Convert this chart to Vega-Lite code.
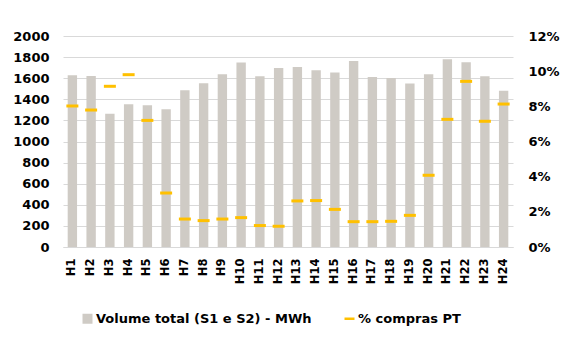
{
  "$schema": "https://vega.github.io/schema/vega-lite/v6.json",
  "width": 450,
  "height": 211,
  "autosize": {"type": "none"},
  "padding": {"left": 63, "top": 36, "right": 57, "bottom": 91},
  "background": "white",
  "config": {
    "font": "DejaVu Sans",
    "view": {"stroke": null},
    "axis": {"labelFont": "DejaVu Sans", "labelFontWeight": "bold", "labelColor": "#000000", "ticks": false, "domain": false}
  },
  "data": {
    "values": [
      {"hour": "H1", "vol": 1627, "pct": 0.0802},
      {"hour": "H2", "vol": 1621, "pct": 0.0779},
      {"hour": "H3", "vol": 1263, "pct": 0.0914},
      {"hour": "H4", "vol": 1353, "pct": 0.098},
      {"hour": "H5", "vol": 1343, "pct": 0.072},
      {"hour": "H6", "vol": 1305, "pct": 0.0307},
      {"hour": "H7", "vol": 1485, "pct": 0.0159},
      {"hour": "H8", "vol": 1552, "pct": 0.015},
      {"hour": "H9", "vol": 1637, "pct": 0.0159},
      {"hour": "H10", "vol": 1748, "pct": 0.0167},
      {"hour": "H11", "vol": 1618, "pct": 0.0122},
      {"hour": "H12", "vol": 1697, "pct": 0.0118},
      {"hour": "H13", "vol": 1706, "pct": 0.0262},
      {"hour": "H14", "vol": 1675, "pct": 0.0264},
      {"hour": "H15", "vol": 1653, "pct": 0.0214},
      {"hour": "H16", "vol": 1763, "pct": 0.0144},
      {"hour": "H17", "vol": 1611, "pct": 0.0144},
      {"hour": "H18", "vol": 1602, "pct": 0.0146},
      {"hour": "H19", "vol": 1549, "pct": 0.018},
      {"hour": "H20", "vol": 1637, "pct": 0.0408},
      {"hour": "H21", "vol": 1779, "pct": 0.0726},
      {"hour": "H22", "vol": 1751, "pct": 0.0942},
      {"hour": "H23", "vol": 1618, "pct": 0.0715},
      {"hour": "H24", "vol": 1482, "pct": 0.0813}
    ]
  },
  "encoding": {
    "x": {
      "field": "hour",
      "type": "nominal",
      "sort": null,
      "scale": {"paddingInner": 0.5, "paddingOuter": 0.25},
      "axis": {"title": null, "labelAngle": -90, "labelFontSize": 11.5, "labelPadding": 11, "domain": true, "domainColor": "#D9D9D9", "labelBaseline": "middle", "labelAlign": "right"}
    }
  },
  "layer": [
    {
      "mark": {"type": "bar", "color": "#CFCBC5"},
      "encoding": {
        "y": {
          "field": "vol",
          "type": "quantitative",
          "scale": {"domain": [0, 2000]},
          "axis": {"title": null, "format": "d", "values": [0, 200, 400, 600, 800, 1000, 1200, 1400, 1600, 1800, 2000], "labelFontSize": 13, "labelPadding": 14, "gridColor": "#D9D9D9", "grid": true}
        },
        "color": {
          "datum": "Volume total (S1 e S2) - MWh",
          "scale": {"domain": ["Volume total (S1 e S2) - MWh", "% compras PT"], "range": ["#CFCBC5", "#FFC000"]},
          "legend": {
            "title": null,
            "orient": "none",
            "direction": "horizontal",
            "legendX": 18,
            "legendY": 276,
            "labelFont": "DejaVu Sans",
            "labelFontWeight": "bold",
            "labelFontSize": 13,
            "labelColor": "#000000",
            "labelLimit": 400,
            "symbolSize": 100,
            "columnPadding": 31,
            "labelOffset": 2,
            "symbolStrokeWidth": 0,
            "encode": {
              "symbols": {
                "update": {
                  "shape": {"signal": "datum.value === '% compras PT' ? 'M-1,-0.25H1V0.25H-1Z' : 'square'"},
                  "fill": {"signal": "datum.value === '% compras PT' ? '#FFC000' : '#CFCBC5'"},
                  "fillOpacity": {"value": 1},
                  "strokeWidth": {"value": 0}
                }
              }
            }
          }
        }
      }
    },
    {
      "mark": {"type": "tick", "orient": "horizontal", "size": 12, "thickness": 3, "opacity": 1},
      "encoding": {
        "y": {
          "field": "pct",
          "type": "quantitative",
          "scale": {"domain": [0, 0.12]},
          "axis": {"title": null, "orient": "right", "format": ".0%", "values": [0, 0.02, 0.04, 0.06, 0.08, 0.1, 0.12], "labelFontSize": 13, "labelPadding": 15, "grid": false}
        },
        "color": {"datum": "% compras PT"}
      }
    }
  ],
  "resolve": {"scale": {"y": "independent"}}
}
